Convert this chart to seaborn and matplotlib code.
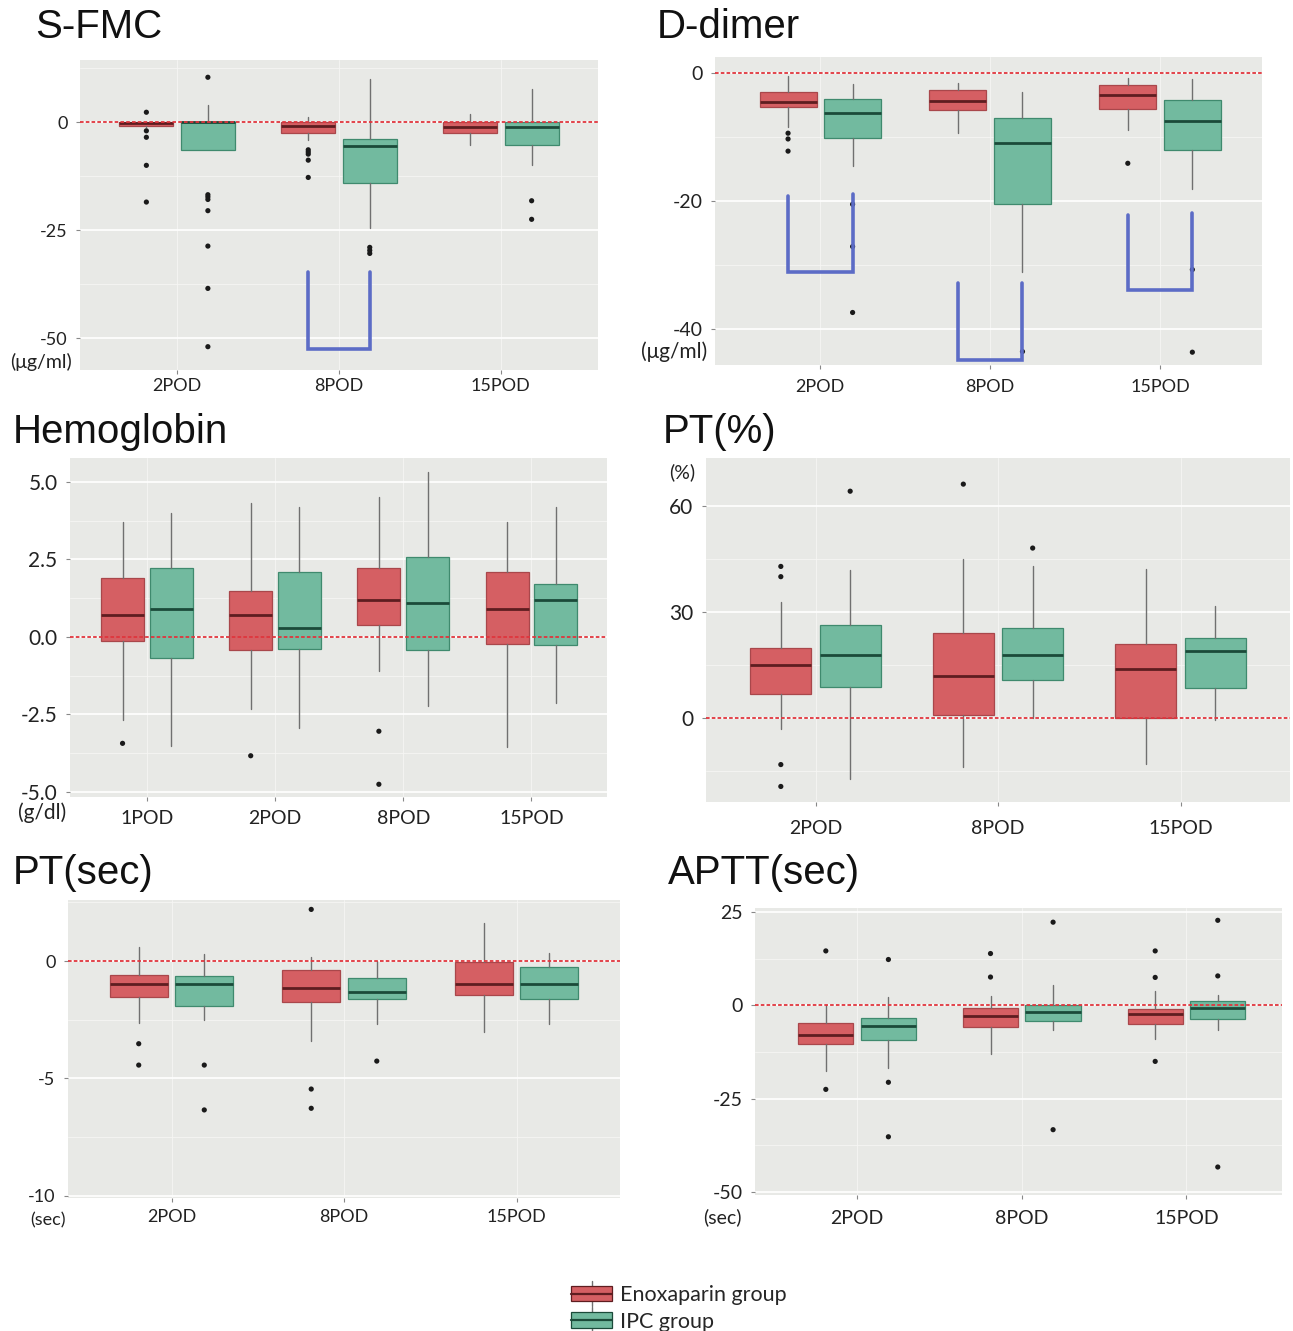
import numpy as np
import pandas as pd
import matplotlib
matplotlib.use("Agg")
import matplotlib.pyplot as plt
import seaborn as sns
from matplotlib.patches import Patch, Rectangle
from matplotlib.lines import Line2D
from matplotlib.legend_handler import HandlerBase

# ---------------- data ----------------
PODS_3 = ["2POD", "8POD", "15POD"]
PODS_4 = ["1POD", "2POD", "8POD", "15POD"]
GROUPS = ["Enoxaparin group", "IPC group"]

# S-FMC (ug/ml)
SFMC_ENOX_LO = [-1.2, -4.2, -5.4]
SFMC_ENOX_Q1 = [-0.8, -2.5, -2.5]
SFMC_ENOX_MED = [-0.3, -0.9, -1.2]
SFMC_ENOX_Q3 = [0.0, 0.15, 0.0]
SFMC_ENOX_HI = [0.0, 1.2, 2.0]
SFMC_ENOX_OUT = [[2.3, -2.0, -3.5, -10.0, -18.5], [-6.4, -6.9, -7.4, -8.8, -12.8], []]
SFMC_IPC_LO = [-6.5, -24.6, -10.0]
SFMC_IPC_Q1 = [-6.4, -14.0, -5.2]
SFMC_IPC_MED = [0.0, -5.5, -1.2]
SFMC_IPC_Q3 = [0.0, -3.9, 0.0]
SFMC_IPC_HI = [3.9, 9.9, 7.6]
SFMC_IPC_OUT = [[10.4, -16.8, -17.3, -17.9, -20.5, -28.7, -38.5, -52.0], [-29.0, -29.7, -30.4], [-18.2, -22.5]]
SFMC_BRACKETS = [("8POD", -34.7, -34.7, -52.5)]

# D-dimer (ug/ml)
DD_ENOX_LO = [-8.4, -9.4, -8.9]
DD_ENOX_Q1 = [-5.3, -5.8, -5.6]
DD_ENOX_MED = [-4.6, -4.3, -3.5]
DD_ENOX_Q3 = [-3.0, -2.6, -1.8]
DD_ENOX_HI = [-0.4, -1.5, -0.8]
DD_ENOX_OUT = [[-9.4, -10.3, -12.2], [], [-14.1]]
DD_IPC_LO = [-14.6, -31.0, -18.1]
DD_IPC_Q1 = [-10.2, -20.5, -12.1]
DD_IPC_MED = [-6.3, -11.0, -7.5]
DD_IPC_Q3 = [-4.0, -7.0, -4.2]
DD_IPC_HI = [-1.7, -3.0, -1.0]
DD_IPC_OUT = [[-20.5, -27.1, -37.4], [-43.5], [-30.7, -43.6]]
DD_BRACKETS = [("2POD", -19.2, -18.9, -31.0), ("8POD", -32.8, -32.8, -44.8), ("15POD", -22.1, -21.8, -33.9)]

# Hemoglobin (g/dl)
HB_ENOX_LO = [-2.69, -2.31, -1.11, -3.54]
HB_ENOX_Q1 = [-0.12, -0.43, 0.39, -0.24]
HB_ENOX_MED = [0.71, 0.71, 1.19, 0.89]
HB_ENOX_Q3 = [1.90, 1.49, 2.22, 2.09]
HB_ENOX_HI = [3.72, 4.31, 4.51, 3.72]
HB_ENOX_OUT = [[-3.43], [-3.83], [-3.04, -4.75], []]
HB_IPC_LO = [-3.53, -2.93, -2.23, -2.14]
HB_IPC_Q1 = [-0.67, -0.40, -0.43, -0.27]
HB_IPC_MED = [0.89, 0.30, 1.09, 1.19]
HB_IPC_Q3 = [2.22, 2.09, 2.57, 1.71]
HB_IPC_HI = [4.0, 4.2, 5.32, 4.2]
HB_IPC_OUT = [[], [], [], []]

# PT (%)
PTP_ENOX_LO = [-3.0, -14.0, -13.1]
PTP_ENOX_Q1 = [6.8, 0.85, 0.0]
PTP_ENOX_MED = [15.1, 12.0, 13.9]
PTP_ENOX_Q3 = [19.8, 24.0, 20.9]
PTP_ENOX_HI = [32.8, 45.0, 42.2]
PTP_ENOX_OUT = [[42.9, 40.0, -13.2, -19.4], [66.2], []]
PTP_IPC_LO = [-17.3, 0.0, -0.6]
PTP_IPC_Q1 = [8.9, 10.8, 8.5]
PTP_IPC_MED = [17.9, 17.9, 19.0]
PTP_IPC_Q3 = [26.4, 25.5, 22.6]
PTP_IPC_HI = [42.0, 42.9, 31.8]
PTP_IPC_OUT = [[64.2], [48.1], []]

# PT (sec)
PTS_ENOX_LO = [-2.62, -3.42, -3.01]
PTS_ENOX_Q1 = [-1.53, -1.73, -1.46]
PTS_ENOX_MED = [-0.99, -1.13, -0.99]
PTS_ENOX_Q3 = [-0.61, -0.40, -0.04]
PTS_ENOX_HI = [0.58, 0.18, 1.63]
PTS_ENOX_OUT = [[-3.52, -4.43], [2.2, -5.45, -6.27], []]
PTS_IPC_LO = [-2.53, -2.7, -2.66]
PTS_IPC_Q1 = [-1.9, -1.6, -1.6]
PTS_IPC_MED = [-0.99, -1.3, -0.99]
PTS_IPC_Q3 = [-0.64, -0.72, -0.24]
PTS_IPC_HI = [0.28, 0.0, 0.33]
PTS_IPC_OUT = [[-4.43, -6.34], [-4.26], []]

# APTT (sec)
APTT_ENOX_LO = [-17.5, -13.1, -8.9]
APTT_ENOX_Q1 = [-10.3, -5.7, -5.0]
APTT_ENOX_MED = [-7.9, -2.8, -2.4]
APTT_ENOX_Q3 = [-4.65, -0.7, -0.9]
APTT_ENOX_HI = [0.0, 2.6, 3.9]
APTT_ENOX_OUT = [[14.6, -22.5], [13.9, 7.6], [14.6, 7.5, -15.0]]
APTT_IPC_LO = [-16.8, -6.5, -6.5]
APTT_IPC_Q1 = [-9.4, -4.2, -3.7]
APTT_IPC_MED = [-5.5, -1.8, -0.6]
APTT_IPC_Q3 = [-3.5, 0.0, 1.1]
APTT_IPC_HI = [2.3, 5.5, 2.9]
APTT_IPC_OUT = [[12.3, -20.6, -35.2], [22.3, -33.3], [22.8, 7.9, -43.3]]

# ---------------- style ----------------
W, H = 1293, 1331
BG = "#E8E9E6"
RED = "#D55F63"
RED_EDGE = "#A9474B"
RED_MED = "#5E1D20"
GREEN = "#72BA9F"
GREEN_EDGE = "#3F8A6E"
GREEN_MED = "#1B4A39"
WHISK = "#707070"
ZERO = "#E0353D"
BRACKET = "#5C6CC6"
TITLE_FONT = ["Liberation Sans", "DejaVu Sans"]
TICK_FONT = ["Lato", "DejaVu Sans"]

sns.set_theme(style="darkgrid", rc={"axes.facecolor": BG, "grid.color": "white",
                                    "figure.facecolor": "white"})
plt.rcParams["font.family"] = TICK_FONT

fig = plt.figure(figsize=(W / 100, H / 100), dpi=100)

OFF = 0.19
BW = 0.335


def px_axes(x0, y0, x1, y1):
    return fig.add_axes([x0 / W, 1 - y1 / H, (x1 - x0) / W, (y1 - y0) / H])


def stats(lo, q1, med, q3, hi):
    return [dict(whislo=a, q1=b, med=c, q3=d, whishi=e, fliers=[])
            for a, b, c, d, e in zip(lo, q1, med, q3, hi)]


def panel(rect, cats, enox, ipc, enox_out, ipc_out, ylim, yticks, ylabels, xlim,
          title, title_xy, unit, unit_xy, yfs, xfs, ufs, xpad, brackets=()):
    ax = px_axes(*rect)
    ax.set_facecolor(BG)
    n = len(cats)
    idx = np.arange(n)
    for st, off, fc, ec, mc in [(enox, -OFF, RED, RED_EDGE, RED_MED),
                                (ipc, OFF, GREEN, GREEN_EDGE, GREEN_MED)]:
        ax.bxp(st, positions=idx + off, widths=BW, patch_artist=True,
               showcaps=False, showfliers=False,
               boxprops=dict(facecolor=fc, edgecolor=ec, linewidth=0.9),
               whiskerprops=dict(color=WHISK, linewidth=1.0),
               medianprops=dict(color=mc, linewidth=2.0),
               manage_ticks=False, zorder=3)
    # outliers via seaborn
    rows = []
    for g, outs, off in [(GROUPS[0], enox_out, -OFF), (GROUPS[1], ipc_out, OFF)]:
        for i, vals in enumerate(outs):
            for v in vals:
                rows.append({"pos": i + off, "value": v, "group": g})
    if rows:
        df = pd.DataFrame(rows)
        sns.scatterplot(data=df, x="pos", y="value", ax=ax, color="#1a1a1a", s=14,
                        edgecolor="none", legend=False, zorder=4)
    ax.axhline(0, color=ZERO, lw=1.3, ls=(0, (2, 1.2)), zorder=5)
    for cat, tl, tr, bot in brackets:
        i = cats.index(cat)
        ax.plot([i - OFF, i - OFF, i + OFF, i + OFF], [tl, bot, bot, tr],
                color=BRACKET, lw=2.6, zorder=6, solid_joinstyle="miter")
    ax.set_xlim(*xlim)
    ax.set_ylim(*ylim)
    ax.set_xticks(idx)
    ax.set_xticklabels(cats)
    ax.set_yticks(yticks)
    ax.set_yticklabels(ylabels)
    step = abs(yticks[1] - yticks[0])
    lo_t = min(yticks) - step / 2
    minors = []
    m = lo_t
    while m <= ylim[1]:
        if m >= ylim[0]:
            minors.append(m)
        m += step
    ax.set_yticks(minors, minor=True)
    ax.grid(which="major", axis="y", color="white", lw=1.2)
    ax.grid(which="major", axis="x", color="#F4F4F2", lw=0.7)
    ax.grid(which="minor", axis="y", color="#F6F6F4", lw=0.6)
    ax.set_axisbelow(True)
    ax.set_xlabel("")
    ax.set_ylabel("")
    for s in ax.spines.values():
        s.set_visible(False)
    ax.tick_params(axis="y", which="major", length=3, width=0.8, color="#888888",
                   labelsize=yfs, labelcolor="#222222", pad=6, left=True)
    ax.tick_params(axis="x", which="major", length=3, width=0.8, color="#888888",
                   labelsize=xfs, labelcolor="#222222", pad=xpad, bottom=True)
    ax.tick_params(which="minor", length=0)
    fig.text(title_xy[0] / W, 1 - title_xy[1] / H, title, ha="left", va="center",
             fontsize=29, family=TITLE_FONT, color="#111111")
    fig.text(unit_xy[0] / W, 1 - unit_xy[1] / H, unit, ha="center", va="center",
             fontsize=ufs, family=TICK_FONT, color="#222222")
    return ax


panel((80, 60, 598, 370), PODS_3,
      stats(SFMC_ENOX_LO, SFMC_ENOX_Q1, SFMC_ENOX_MED, SFMC_ENOX_Q3, SFMC_ENOX_HI),
      stats(SFMC_IPC_LO, SFMC_IPC_Q1, SFMC_IPC_MED, SFMC_IPC_Q3, SFMC_IPC_HI),
      SFMC_ENOX_OUT, SFMC_IPC_OUT, (-57.4, 14.4), [0, -25, -50], ["0", "-25", "-50"],
      (-0.6, 2.6), "S-FMC", (35, 27), "(μg/ml)", (41, 362), 13, 13, 14, 3,
      SFMC_BRACKETS)

panel((715, 57, 1262, 365), PODS_3,
      stats(DD_ENOX_LO, DD_ENOX_Q1, DD_ENOX_MED, DD_ENOX_Q3, DD_ENOX_HI),
      stats(DD_IPC_LO, DD_IPC_Q1, DD_IPC_MED, DD_IPC_Q3, DD_IPC_HI),
      DD_ENOX_OUT, DD_IPC_OUT, (-45.6, 2.5), [0, -20, -40], ["0", "-20", "-40"],
      (-0.62, 2.6), "D-dimer", (657, 27), "(μg/ml)", (674, 352), 14, 13, 15, 7,
      DD_BRACKETS)

panel((70, 458, 607, 797), PODS_4,
      stats(HB_ENOX_LO, HB_ENOX_Q1, HB_ENOX_MED, HB_ENOX_Q3, HB_ENOX_HI),
      stats(HB_IPC_LO, HB_IPC_Q1, HB_IPC_MED, HB_IPC_Q3, HB_IPC_HI),
      HB_ENOX_OUT, HB_IPC_OUT, (-5.16, 5.77), [5.0, 2.5, 0.0, -2.5, -5.0],
      ["5.0", "2.5", "0.0", "-2.5", "-5.0"], (-0.6, 3.59), "Hemoglobin", (13, 432),
      "(g/dl)", (42, 813), 15, 14, 15, 6)

panel((706, 458, 1290, 802), PODS_3,
      stats(PTP_ENOX_LO, PTP_ENOX_Q1, PTP_ENOX_MED, PTP_ENOX_Q3, PTP_ENOX_HI),
      stats(PTP_IPC_LO, PTP_IPC_Q1, PTP_IPC_MED, PTP_IPC_Q3, PTP_IPC_HI),
      PTP_ENOX_OUT, PTP_IPC_OUT, (-23.8, 73.6), [60, 30, 0], ["60", "30", "0"],
      (-0.6, 2.6), "PT(%)", (663, 432), "(%)", (682, 472), 15, 14, 14, 10)

panel((68, 900, 620, 1198), PODS_3,
      stats(PTS_ENOX_LO, PTS_ENOX_Q1, PTS_ENOX_MED, PTS_ENOX_Q3, PTS_ENOX_HI),
      stats(PTS_IPC_LO, PTS_IPC_Q1, PTS_IPC_MED, PTS_IPC_Q3, PTS_IPC_HI),
      PTS_ENOX_OUT, PTS_IPC_OUT, (-10.09, 2.6), [0, -5, -10], ["0", "-5", "-10"],
      (-0.6, 2.6), "PT(sec)", (13, 873), "(sec)", (48, 1220), 13, 13, 13, 5)

panel((755, 908, 1282, 1195), PODS_3,
      stats(APTT_ENOX_LO, APTT_ENOX_Q1, APTT_ENOX_MED, APTT_ENOX_Q3, APTT_ENOX_HI),
      stats(APTT_IPC_LO, APTT_IPC_Q1, APTT_IPC_MED, APTT_IPC_Q3, APTT_IPC_HI),
      APTT_ENOX_OUT, APTT_IPC_OUT, (-50.8, 26.1), [25, 0, -25, -50],
      ["25", "0", "-25", "-50"], (-0.62, 2.58), "APTT(sec)", (668, 873), "(sec)",
      (722, 1217), 14, 14, 14, 8)


# ---------------- legend ----------------
class BoxHandler(HandlerBase):
    def create_artists(self, legend, orig_handle, xdescent, ydescent, width, height,
                       fontsize, trans):
        fc = orig_handle.get_facecolor()
        ec = orig_handle.get_edgecolor()
        x0, y0 = -xdescent, -ydescent
        rect = Rectangle((x0, y0), width, height, facecolor=fc, edgecolor=ec,
                         lw=0.9, transform=trans)
        med = Line2D([x0, x0 + width], [y0 + height / 2] * 2, color=ec, lw=1.6,
                     transform=trans)
        w1 = Line2D([x0 + width / 2] * 2, [y0 - height * 0.3, y0], color=WHISK,
                    lw=1.0, transform=trans)
        w2 = Line2D([x0 + width / 2] * 2, [y0 + height, y0 + height * 1.3],
                    color=WHISK, lw=1.0, transform=trans)
        return [w1, w2, rect, med]


handles = [Patch(facecolor=RED, edgecolor=RED_MED), Patch(facecolor=GREEN, edgecolor=GREEN_MED)]
fig.legend(handles, GROUPS, handler_map={Patch: BoxHandler()}, loc="upper left",
           bbox_to_anchor=(556 / W, 1 - 1270 / H), frameon=False,
           handlelength=1.9, handleheight=0.75, handletextpad=0.35, labelspacing=0.3,
           borderpad=0.2, prop={"family": TICK_FONT, "size": 15.5})

fig.savefig("out.png", dpi=100)
